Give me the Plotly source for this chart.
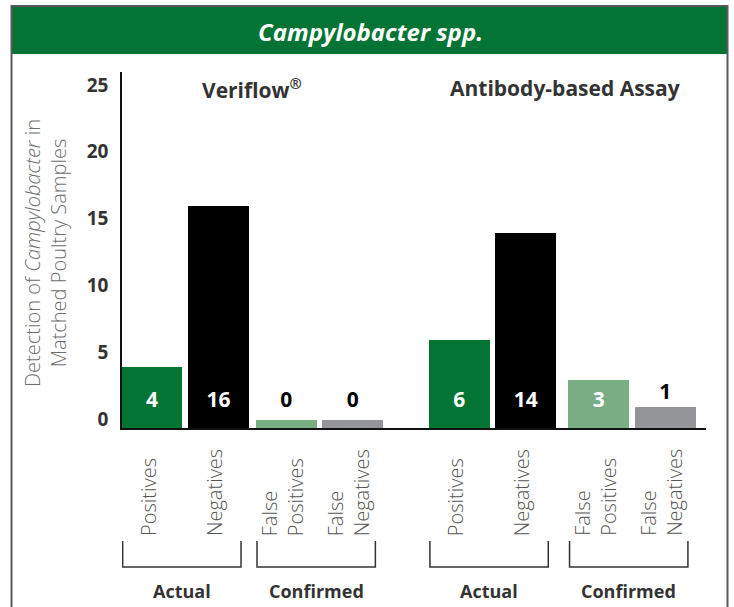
import plotly.graph_objects as go

# ---------------- data ----------------
TITLE = "Campylobacter spp."
GROUPS = ["Veriflow<sup>®</sup>", "Antibody-based Assay"]
CATEGORIES = ["Positives", "Negatives", "False<br>Positives", "False<br>Negatives"]
SUBGROUPS = ["Actual", "Confirmed"]
VERIFLOW = [4, 16, 0, 0]
ANTIBODY = [6, 14, 3, 1]
Y_TICKS = [0, 5, 10, 15, 20, 25]
Y_TITLE = "Detection of <i>Campylobacter</i> in<br>Matched Poultry Samples"

# ---------------- style ----------------
W, H = 734, 607
L, R, T, B = 122, 28, 72, 179
PW, PH = W - L - R, H - T - B
GREEN = "#047435"
CAT_COLORS = [GREEN, "#000000", "#79ad84", "#939598"]
DARK = "#333333"
FONT = "Open Sans"

GROUP_OFFSETS = [0.0, 4.62]
SUB_GAPS = [0.02, 0.10]
HEADER_SHIFT = [0, 3]
BAR_W = 0.917
X_RANGE = [-0.45, -0.45 + PW / 66.5]
Y_MIN = -0.6            # bars sit on a small plinth below zero, as in the original design
Y_RANGE = [Y_MIN, 26.05]
LABEL_Y = 1.35
INSIDE_MIN = 3          # values from this size up carry a white label inside the bar


def px_x(px):
    return (px - L) / PW


def px_y(py):
    return (H - B - py) / PH


series = [VERIFLOW, ANTIBODY]
xs, ys, cols, texts, tcols, tys = [], [], [], [], [], []
for g, vals in enumerate(series):
    for i, v in enumerate(vals):
        x = GROUP_OFFSETS[g] + i + (SUB_GAPS[g] if i >= 2 else 0)
        xs.append(x)
        ys.append(v)
        cols.append(CAT_COLORS[i])
        texts.append(str(v))
        inside = v >= INSIDE_MIN
        tcols.append("white" if inside else "black")
        tys.append(LABEL_Y if inside else max(LABEL_Y, v + 0.95))

fig = go.Figure()
# plinth under each bar (from axis line up to zero)
fig.add_trace(go.Bar(x=xs, y=[-Y_MIN] * len(xs), base=Y_MIN, width=BAR_W,
                     marker=dict(color=cols, line_width=0),
                     hoverinfo="skip", showlegend=False))
fig.add_trace(go.Bar(x=xs, y=ys, width=BAR_W, marker=dict(color=cols, line_width=0),
                     hoverinfo="skip", showlegend=False))
fig.add_trace(go.Scatter(x=xs, y=tys, mode="text", text=texts,
                         textfont=dict(family=FONT, size=21, color=tcols, weight="bold"),
                         hoverinfo="skip", showlegend=False))

shapes = []
annotations = []

# frame and title bar
shapes.append(dict(type="rect", xref="paper", yref="paper",
                   x0=px_x(11), x1=px_x(728), y0=px_y(7), y1=px_y(54),
                   fillcolor=GREEN, line_width=0, layer="below"))
shapes.append(dict(type="path", xref="paper", yref="paper",
                   path=f"M {px_x(11.5)},{px_y(620)} L {px_x(11.5)},{px_y(6)} "
                        f"L {px_x(727.5)},{px_y(6)} L {px_x(727.5)},{px_y(620)}",
                   line=dict(color="#58595b", width=2)))
annotations.append(dict(xref="paper", yref="paper", x=px_x(370), y=px_y(31),
                        text=TITLE, showarrow=False, xanchor="center", yanchor="middle",
                        font=dict(family=FONT, size=24, color="white", weight="bold", style="italic")))

# y title
annotations.append(dict(xref="paper", yref="paper", x=px_x(45), y=px_y(253),
                        text=Y_TITLE, showarrow=False, textangle=-90,
                        xanchor="center", yanchor="middle",
                        font=dict(family=FONT, size=20, color="#6d6e71", weight=300)))

for g in range(len(series)):
    gx = [xs[g * 4 + i] for i in range(4)]
    # group header
    annotations.append(dict(xref="x", yref="paper", x=(gx[0] + gx[3]) / 2, y=px_y(88),
                            text=GROUPS[g], showarrow=False, xanchor="center", yanchor="middle",
                            xshift=HEADER_SHIFT[g],
                            font=dict(family=FONT, size=21, color=DARK, weight="bold")))
    # category labels
    for i, cat in enumerate(CATEGORIES):
        annotations.append(dict(xref="x", yref="paper", x=gx[i], y=px_y(538),
                                text=cat, showarrow=False, textangle=-90, align="left",
                                xanchor="center", yanchor="bottom", xshift=-4,
                                font=dict(family=FONT, size=20, color="#555555", weight=300)))
    # brackets
    for s, sub in enumerate(SUBGROUPS):
        x0 = gx[2 * s] - 0.44
        x1 = gx[2 * s + 1] + 0.34
        shapes.append(dict(type="path", xref="x", yref="paper",
                           path=f"M {x0},{px_y(541)} L {x0},{px_y(567)} L {x1},{px_y(567)} L {x1},{px_y(541)}",
                           line=dict(color=DARK, width=1.5)))
        annotations.append(dict(xref="x", yref="paper", x=(x0 + x1) / 2, y=px_y(591),
                                text=sub, showarrow=False, xanchor="center", yanchor="middle",
                                font=dict(family=FONT, size=18, color=DARK, weight="bold")))

fig.update_layout(
    width=W, height=H,
    margin=dict(l=L, r=R, t=T, b=B, pad=0),
    paper_bgcolor="white", plot_bgcolor="white",
    shapes=shapes, annotations=annotations,
    bargap=0, barmode="overlay",
    xaxis=dict(range=X_RANGE, showgrid=False, zeroline=False, showticklabels=False,
               showline=True, linecolor="#111111", linewidth=2, ticks="", fixedrange=True),
    yaxis=dict(range=Y_RANGE, tickvals=Y_TICKS, showgrid=False, zeroline=False,
               showline=True, linecolor="#111111", linewidth=1.5, ticks="",
               ticklabelshift=-1, ticklabelstandoff=8,
               tickfont=dict(family=FONT, size=19, color=DARK, weight="bold"), fixedrange=True),
)

fig.write_html("out.html", config={"displayModeBar": False},
               post_script="document.body.style.margin='0';document.body.style.overflow='hidden';")
